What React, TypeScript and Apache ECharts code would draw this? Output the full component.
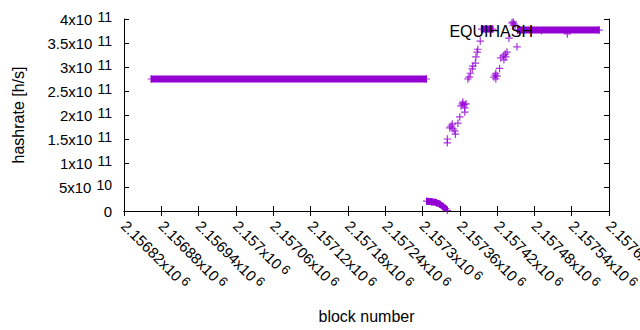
import React, { useEffect, useRef } from 'react';
import * as echarts from 'echarts';

// ---- axis ticks ----
const xTickValues = [2156820, 2156880, 2156940, 2157000, 2157060, 2157120, 2157180, 2157240, 2157300, 2157360, 2157420, 2157480, 2157540, 2157600];
const xTickLabels = ['2.15682x10^{6}', '2.15688x10^{6}', '2.15694x10^{6}', '2.157x10^{6}', '2.15706x10^{6}', '2.15712x10^{6}', '2.15718x10^{6}', '2.15724x10^{6}', '2.1573x10^{6}', '2.15736x10^{6}', '2.15742x10^{6}', '2.15748x10^{6}', '2.15754x10^{6}', '2.1576x10^{6}'];
const yTickValues = [0, 5e10, 1e11, 1.5e11, 2e11, 2.5e11, 3e11, 3.5e11, 4e11];
const yTickLabels = ['0', '5x10^{10}', '1x10^{11}', '1.5x10^{11}', '2x10^{11}', '2.5x10^{11}', '3x10^{11}', '3.5x10^{11}', '4x10^{11}'];

// ---- sparse points (block number, hashrate) ----
const pointBlocks = [
  2157340, 2157340, 2157344, 2157346, 2157348, 2157349, 2157352, 2157353, 2157357, 2157360,
  2157362, 2157364, 2157365, 2157367, 2157368, 2157370, 2157368,
  2157373, 2157375, 2157377, 2157380, 2157381, 2157385, 2157386, 2157388, 2157389, 2157393,
  2157415, 2157417, 2157418, 2157420, 2157418, 2157424,
  2157426, 2157430, 2157433, 2157434, 2157431, 2157436, 2157439,
  2157444, 2157446, 2157447, 2157449, 2157446, 2157452,
  2157533,
];
const pointValues = [
  1.42e11, 1.5e11, 1.73e11, 1.77e11, 1.81e11, 1.71e11, 1.67e11, 1.6e11, 1.83e11, 1.96e11,
  2.19e11, 2.23e11, 2.27e11, 2.21e11, 2.15e11, 2.23e11, 2.06e11,
  2.75e11, 2.79e11, 2.87e11, 2.96e11, 3.02e11, 3.08e11, 3.21e11, 3.31e11, 3.37e11, 3.54e11,
  2.79e11, 2.83e11, 2.87e11, 2.81e11, 2.75e11, 2.97e11,
  3.19e11, 3.23e11, 3.27e11, 3.21e11, 3.15e11, 3.31e11, 3.6e11,
  3.92e11, 3.94e11, 3.9e11, 3.87e11, 3.87e11, 3.42e11,
  3.69e11,
];

// ---- dense runs (one point per block, drawn as a continuous band) ----
const run1Blocks = [2156864, 2157306];
const run1Values = [2.75e11, 2.75e11];
const run2Blocks = [2157307, 2157315, 2157322, 2157328, 2157333, 2157337, 2157340];
const run2Values = [2.05e10, 1.95e10, 1.75e10, 1.4e10, 9.5e9, 5e9, 1.5e9];
const run3Blocks = [2157395, 2157413];
const run3Values = [3.79e11, 3.79e11];
const run4Blocks = [2157453, 2157584];
const run4Values = [3.77e11, 3.77e11];

const COLOR = '#9400d3';
const FONT = '"Liberation Sans", Arial, sans-serif';
const PLUS = 'path://M4.2,0H5.8V4.2H10V5.8H5.8V10H4.2V5.8H0V4.2H4.2Z';

function toRich(label: string): string {
  const m = label.match(/^(.*)\^\{(.*)\}$/);
  if (!m) return `{b|${label}}`;
  return `{b|${m[1]}}{s|${m[2]}}`;
}

function lookup(values: number[], labels: string[], v: number): string {
  for (let i = 0; i < values.length; i++) {
    if (Math.abs(values[i] - v) < 1) return toRich(labels[i]);
  }
  return '';
}

export default function App() {
  const ref = useRef<HTMLDivElement>(null);
  useEffect(() => {
    if (!ref.current) return;
    const chart = echarts.init(ref.current, undefined, { renderer: 'svg' });

    const runs = [
      [run1Blocks, run1Values],
      [run2Blocks, run2Values],
      [run3Blocks, run3Values],
      [run4Blocks, run4Values],
    ];
    const segments: number[][] = [];
    const scatterData: number[][] = [];
    runs.forEach(([bs, vs]) => {
      for (let i = 0; i < bs.length; i++) {
        scatterData.push([bs[i], vs[i]]);
        if (i > 0) segments.push([bs[i - 1], vs[i - 1], bs[i], vs[i]]);
      }
    });
    pointBlocks.forEach((b, i) => scatterData.push([b, pointValues[i]]));

    const xMin = xTickValues[0];
    const xMax = xTickValues[xTickValues.length - 1];
    const xInt = xTickValues[1] - xTickValues[0];
    const yMin = yTickValues[0];
    const yMax = yTickValues[yTickValues.length - 1];
    const yInt = yTickValues[1] - yTickValues[0];

    const richY = {
      b: { fontSize: 15, lineHeight: 18, fontFamily: FONT, color: '#000' },
      s: { fontSize: 14, lineHeight: 12, verticalAlign: 'top', fontFamily: FONT, color: '#000', padding: [0, 0, 0, 5] },
    };
    const richX = {
      b: { fontSize: 15, lineHeight: 18, fontFamily: FONT, color: '#000' },
      s: { fontSize: 13, lineHeight: 12, verticalAlign: 'top', fontFamily: FONT, color: '#000', padding: [0, 0, 0, 3] },
    };

    const axisCommon = {
      type: 'value',
      axisLine: { show: true, lineStyle: { color: '#000', width: 1 } },
      axisTick: { show: true, inside: true, length: 5, lineStyle: { color: '#000', width: 1 } },
      splitLine: { show: false },
    };

    chart.setOption({
      animation: false,
      backgroundColor: '#fff',
      textStyle: { fontFamily: FONT },
      grid: { left: 124, right: 31, top: 19, bottom: 119, containLabel: false, outerBoundsMode: 'none' },
      legend: {
        data: [{ name: 'EQUIHASH', icon: PLUS }],
        right: 90,
        top: 18,
        align: 'right',
        itemWidth: 7,
        itemHeight: 7,
        textStyle: { fontSize: 16, color: '#000', fontFamily: FONT, lineHeight: 16 },
        selectedMode: false,
      },
      xAxis: [
        {
          ...axisCommon,
          position: 'bottom',
          min: xMin,
          max: xMax,
          interval: xInt,
          name: 'block number',
          nameLocation: 'middle',
          nameGap: 97,
          nameTextStyle: { fontSize: 16, color: '#000', fontFamily: FONT },
          axisLabel: {
            show: true,
            rotate: -45,
            interval: 0,
            margin: 12,
            color: '#000',
            hideOverlap: false,
            showMinLabel: true,
            showMaxLabel: true,
            formatter: (v: number) => lookup(xTickValues, xTickLabels, v),
            rich: richX,
          },
        },
        {
          ...axisCommon,
          position: 'top',
          min: xMin,
          max: xMax,
          interval: xInt,
          axisLabel: { show: false },
        },
      ],
      yAxis: [
        {
          ...axisCommon,
          position: 'left',
          min: yMin,
          max: yMax,
          interval: yInt,
          name: 'hashrate [h/s]',
          nameLocation: 'middle',
          nameGap: 98,
          nameTextStyle: { fontSize: 16, color: '#000', fontFamily: FONT },
          axisLabel: {
            show: true,
            margin: 12,
            color: '#000',
            formatter: (v: number) => lookup(yTickValues, yTickLabels, v),
            rich: richY,
          },
        },
        {
          ...axisCommon,
          position: 'right',
          min: yMin,
          max: yMax,
          interval: yInt,
          axisLabel: { show: false },
        },
      ],
      series: [
        {
          name: 'dense',
          type: 'custom',
          clip: true,
          xAxisIndex: 0,
          yAxisIndex: 0,
          encode: { x: [0, 2], y: [1, 3] },
          data: segments,
          renderItem: (params: any, api: any) => {
            const a = api.coord([api.value(0), api.value(1)]);
            const b = api.coord([api.value(2), api.value(3)]);
            const h = 3.5;
            return {
              type: 'polygon',
              shape: {
                points: [
                  [a[0] - 0.7, a[1] - h],
                  [b[0] + 0.7, b[1] - h],
                  [b[0] + 0.7, b[1] + h],
                  [a[0] - 0.7, a[1] + h],
                ],
              },
              style: { fill: COLOR },
            };
          },
        },
        {
          name: 'EQUIHASH',
          type: 'scatter',
          clip: true,
          xAxisIndex: 0,
          yAxisIndex: 0,
          symbol: PLUS,
          symbolSize: 7.5,
          itemStyle: { color: COLOR },
          data: scatterData,
        },
      ],
    });
    return () => chart.dispose();
  }, []);
  return <div ref={ref} style={{ width: 640, height: 330, position: 'absolute', left: 0, top: 0 }} />;
}
